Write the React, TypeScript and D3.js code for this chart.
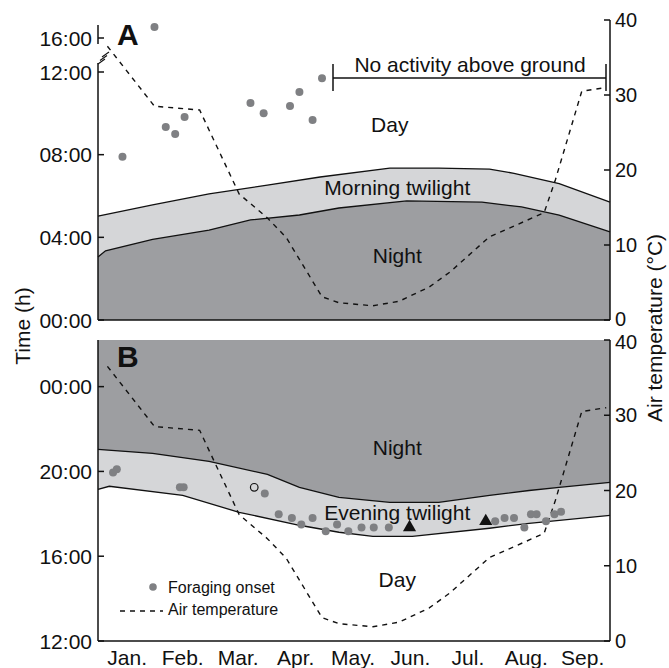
import React from 'react';
import * as d3 from 'd3';

// months along the x axis (day of year, 0 = 1 Jan)
const months = ['Jan.', 'Feb.', 'Mar.', 'Apr.', 'May.', 'Jun.', 'Jul.', 'Aug.', 'Sep.'];
const monthLen = [31, 28, 31, 30, 31, 30, 31, 31, 29];

// panel A: morning twilight (sunrise = upper, dawn = lower), hours
const sunriseDays = [0, 29, 59, 90, 118, 155, 181, 208, 221, 245, 272];
const sunriseHours = [5.03, 5.57, 6.1, 6.53, 6.92, 7.35, 7.35, 7.3, 7.1, 6.6, 5.7];
const dawnDays = [0, 4, 29, 59, 81, 107, 128, 164, 204, 225, 245, 272];
const dawnHours = [3.05, 3.35, 3.9, 4.35, 4.84, 5.08, 5.42, 5.76, 5.7, 5.47, 5.08, 4.26];

// panel B: evening twilight (dusk = upper, sunset = lower), hours
const duskDays = [0, 29, 59, 90, 107, 128, 155, 181, 208, 229, 245, 272];
const duskHours = [21.04, 20.85, 20.47, 19.86, 19.25, 18.78, 18.54, 18.54, 18.87, 19.1, 19.25, 19.48];
const sunsetDays = [0, 6, 45, 75, 107, 128, 146, 167, 208, 229, 272];
const sunsetHours = [19.15, 19.3, 18.87, 18.07, 17.46, 17.13, 16.94, 16.94, 17.32, 17.55, 17.93];

// air temperature (°C)
const tempDays = [5, 30, 54, 75, 90, 100, 119, 128, 146, 160, 176, 187, 208, 237, 243, 257, 270];
const tempValues = [36.5, 28.5, 28, 16.8, 13.6, 11, 3.1, 2.3, 1.9, 2.5, 4.4, 6.4, 11.1, 14.3, 18.7, 30.5, 31];

// foraging onset, panel A (morning)
const onsetADays = [13, 30, 36, 41, 46, 81, 88, 102, 107, 114, 119];
const onsetAHours = [7.9, 16.53, 9.34, 9.0, 9.82, 10.5, 10.0, 10.35, 11.03, 9.68, 11.7];

// foraging onset, panel B (evening)
const onsetBDays = [8, 10, 43.5, 45.5, 88.6, 96, 103, 108, 114, 121, 127, 133, 140, 146.5, 154.5, 211, 216, 221, 226.5, 230, 233, 238, 242.5, 246];
const onsetBHours = [19.95, 20.1, 19.25, 19.25, 18.96, 17.98, 17.8, 17.5, 17.8, 17.18, 17.5, 17.18, 17.36, 17.36, 17.36, 17.65, 17.8, 17.8, 17.36, 17.98, 17.98, 17.65, 17.98, 18.1];
const openDays = [83];
const openHours = [19.25];
const triDays = [165.5, 206];
const triHours = [17.36, 17.65];

const tempTicks = [0, 10, 20, 30, 40];
const hourTicksA = [0, 4, 8, 12];
const hourTicksB = [12, 16, 20, 24];

const FONT = '"Liberation Sans", Arial, Helvetica, sans-serif';
const DARK = '#9d9ea1';
const LIGHT = '#d5d6d8';
const DOT = '#7f8083';

const zip = (a: number[], b: number[]) => a.map((d, i) => [d, b[i]] as [number, number]);
const fmt = (h: number) => `${String(h % 24).padStart(2, '0')}:00`;

export default function App() {
  const x = d3.scaleLinear().domain([0, 272]).range([98, 610]);
  const yA = d3.scaleLinear().domain([0, 12]).range([320, 72]);
  const yAUp = d3.scaleLinear().domain([16, 17]).range([38, 38 - 20.67]);
  const yAny = (h: number) => (h > 12 ? yAUp(h) : yA(h));
  const yB = d3.scaleLinear().domain([12, 26.2]).range([641, 340]);
  const tA = d3.scaleLinear().domain([0, 40]).range([320, 20]);
  const tB = d3.scaleLinear().domain([0, 40]).range([641, 340]);

  const monthStart = d3.cumsum([0, ...monthLen.slice(0, -1)]);
  const monthEdges = monthStart.slice(1);
  const monthMid = monthLen.map((l, i) => monthStart[i] + l / 2);

  const areaA = d3.area<[number, number]>().x(d => x(d[0])).y0(yA(0)).y1(d => yA(d[1]));
  const areaB = d3.area<[number, number]>().x(d => x(d[0])).y0(yB(26.2)).y1(d => yB(d[1]));
  const lineA = d3.line<[number, number]>().x(d => x(d[0])).y(d => yA(d[1]));
  const lineB = d3.line<[number, number]>().x(d => x(d[0])).y(d => yB(d[1]));
  const tempLineA = d3.line<[number, number]>().x(d => x(d[0])).y(d => tA(d[1]));
  const tempLineB = d3.line<[number, number]>().x(d => x(d[0])).y(d => tB(d[1]));
  const tri = d3.symbol(d3.symbolTriangle, 75)() as string;

  const temp = zip(tempDays, tempValues);
  const ax = { stroke: '#111', strokeWidth: 1.5, fill: 'none' };
  const bnd = { stroke: '#111', strokeWidth: 1.3, fill: 'none' };
  const dash = { stroke: '#111', strokeWidth: 1.4, fill: 'none', strokeDasharray: '5,5' };
  const lbl = { fontSize: 21, fill: '#111' };
  const tick = { fontSize: 20, fill: '#111' };

  return (
    <div style={{ position: 'absolute', left: 0, top: 0 }}>
      <svg width={669} height={668} style={{ display: 'block', background: '#fff' }} fontFamily={FONT}>
        {/* ---------- Panel A ---------- */}
        <path d={areaA(zip(sunriseDays, sunriseHours)) as string} fill={LIGHT} />
        <path d={areaA(zip(dawnDays, dawnHours)) as string} fill={DARK} />
        <path d={lineA(zip(sunriseDays, sunriseHours)) as string} {...bnd} />
        <path d={lineA(zip(dawnDays, dawnHours)) as string} {...bnd} />
        <path d={tempLineA(temp) as string} {...dash} />
        {onsetADays.map((d, i) => (
          <circle key={'a' + i} cx={x(d)} cy={yAny(onsetAHours[i])} r={4} fill={DOT} />
        ))}

        <text x={x(155)} y={132} textAnchor="middle" {...lbl}>Day</text>
        <text x={x(159)} y={195} textAnchor="middle" {...lbl}>Morning twilight</text>
        <text x={x(159)} y={263} textAnchor="middle" {...lbl}>Night</text>

        {/* no activity bracket */}
        <line x1={333} x2={606} y1={78} y2={78} {...ax} />
        <line x1={333} x2={333} y1={64} y2={91} {...ax} />
        <line x1={606} x2={606} y1={64} y2={91} {...ax} />
        <text x={470} y={72} textAnchor="middle" {...lbl}>No activity above ground</text>

        {/* axes A */}
        <line x1={98} x2={98} y1={63} y2={320} {...ax} />
        <line x1={98} x2={98} y1={25} y2={44} {...ax} />
        {[0, 1, 2].map(k => (
          <line key={'br' + k} x1={98 + k * 2} y1={64 - k * 3.5} x2={105 + k * 2} y2={59 - k * 3.5} stroke="#111" strokeWidth={1.1} />
        ))}
        <line x1={98} x2={610} y1={320} y2={320} {...ax} />
        <line x1={610} x2={610} y1={20} y2={320} {...ax} />
        {hourTicksA.map(h => (
          <g key={'ha' + h}>
            <line x1={98} x2={104} y1={yA(h)} y2={yA(h)} {...ax} />
            <text x={92} y={yA(h)} dy="0.36em" textAnchor="end" {...lbl}>{fmt(h)}</text>
          </g>
        ))}
        <line x1={98} x2={104} y1={yAUp(16)} y2={yAUp(16)} {...ax} />
        <text x={92} y={yAUp(16)} dy="0.36em" textAnchor="end" {...lbl}>{fmt(16)}</text>
        {tempTicks.map(t => (
          <g key={'ta' + t}>
            <line x1={604} x2={610} y1={tA(t)} y2={tA(t)} {...ax} />
            <text x={615} y={tA(t) + (t === 0 ? -1 : 0)} dy="0.36em" {...tick}>{t}</text>
          </g>
        ))}
        {monthEdges.map(d => (
          <line key={'ma' + d} x1={x(d)} x2={x(d)} y1={320} y2={314} {...ax} />
        ))}
        <text x={117} y={45} fontSize={30} fontWeight="bold" fill="#111">A</text>

        {/* ---------- Panel B ---------- */}
        <path d={areaB(zip(sunsetDays, sunsetHours)) as string} fill={LIGHT} />
        <path d={areaB(zip(duskDays, duskHours)) as string} fill={DARK} />
        <path d={lineB(zip(sunsetDays, sunsetHours)) as string} {...bnd} />
        <path d={lineB(zip(duskDays, duskHours)) as string} {...bnd} />
        <path d={tempLineB(temp) as string} {...dash} />
        {onsetBDays.map((d, i) => (
          <circle key={'b' + i} cx={x(d)} cy={yB(onsetBHours[i])} r={4} fill={DOT} />
        ))}
        {openDays.map((d, i) => (
          <circle key={'o' + i} cx={x(d)} cy={yB(openHours[i])} r={3.8} fill="none" stroke="#111" strokeWidth={1.2} />
        ))}
        {triDays.map((d, i) => (
          <path key={'t' + i} d={tri} transform={`translate(${x(d)},${yB(triHours[i])})`} fill="#111" />
        ))}

        <text x={x(159)} y={455} textAnchor="middle" {...lbl}>Night</text>
        <text x={x(159)} y={520} textAnchor="middle" {...lbl}>Evening twilight</text>
        <text x={x(159)} y={587} textAnchor="middle" {...lbl}>Day</text>

        {/* legend */}
        <circle cx={153} cy={587} r={3.8} fill={DOT} />
        <text x={168} y={593} fontSize={16} fill="#111">Foraging onset</text>
        <line x1={120} x2={163} y1={611} y2={611} {...dash} />
        <text x={168} y={615} fontSize={16} fill="#111">Air temperature</text>

        {/* axes B */}
        <line x1={98} x2={98} y1={340} y2={641} {...ax} />
        <line x1={98} x2={610} y1={641} y2={641} {...ax} />
        <line x1={610} x2={610} y1={340} y2={641} {...ax} />
        {hourTicksB.map(h => (
          <g key={'hb' + h}>
            <line x1={98} x2={104} y1={yB(h)} y2={yB(h)} {...ax} />
            <text x={92} y={yB(h)} dy="0.36em" textAnchor="end" {...lbl}>{fmt(h)}</text>
          </g>
        ))}
        {tempTicks.map(t => (
          <g key={'tb' + t}>
            <line x1={604} x2={610} y1={tB(t)} y2={tB(t)} {...ax} />
            <text x={615} y={tB(t) + (t === 40 ? 2 : 0)} dy="0.36em" {...tick}>{t}</text>
          </g>
        ))}
        {monthEdges.map(d => (
          <line key={'mb' + d} x1={x(d)} x2={x(d)} y1={641} y2={635} {...ax} />
        ))}
        {months.map((m, i) => (
          <text key={m} x={x(monthMid[i])} y={665} textAnchor="middle" {...lbl}>{m}</text>
        ))}
        <text x={117} y={367} fontSize={30} fontWeight="bold" fill="#111">B</text>

        {/* axis titles */}
        <text transform="translate(30,326) rotate(-90)" textAnchor="middle" {...lbl}>Time (h)</text>
        <text transform="translate(662,328) rotate(-90)" textAnchor="middle" {...lbl}>Air temperature (°C)</text>
      </svg>
    </div>
  );
}
